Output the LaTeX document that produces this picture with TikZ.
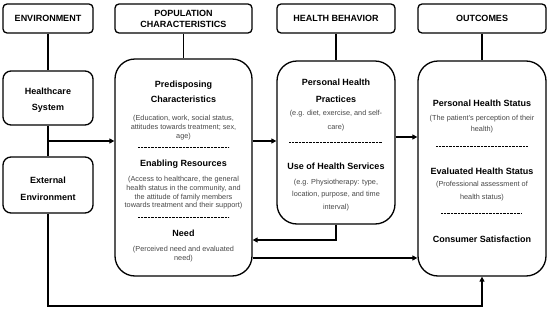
\documentclass[tikz,border=0pt]{standalone}
\usepackage{fontspec}
\setmainfont{Liberation Sans}
\usetikzlibrary{arrows.meta}
\definecolor{smallgray}{RGB}{70,70,70}
\begin{document}
\begin{tikzpicture}[x=1pt,y=-1pt,
  hdr/.style={draw,line width=1.3pt,rounded corners=4pt,align=center,inner sep=0pt,
    font=\fontsize{9}{11}\selectfont\bfseries},
  sidebox/.style={draw,line width=1.3pt,rounded corners=8pt,inner sep=0pt,minimum width=90pt},
  bigbox/.style={draw,line width=1.3pt,rounded corners=20pt,inner sep=0pt},
  ttl/.style={align=center,inner sep=0pt,font=\fontsize{9}{#1}\selectfont\bfseries},
  ttl/.default=15,
  sml/.style={align=center,inner sep=0pt,text=smallgray,font=\fontsize{7.3}{#1}\selectfont},
  sml/.default=9,
  dots/.style={line width=0.9pt,dash pattern=on 0.7pt off 0.7pt},
  conn/.style={line width=1.3pt},
  arr/.style={line width=1.3pt,-{Triangle[length=5pt,width=5pt]}}
]
\useasboundingbox (0,0) rectangle (550,311);

% headers
\node[hdr,minimum width=90pt,minimum height=29pt] (envh) at (48,18.5) {ENVIRONMENT};
\node[hdr,minimum width=137pt,minimum height=29pt] (poph) at (183.5,18.5) {POPULATION\\CHARACTERISTICS};
\node[hdr,minimum width=118pt,minimum height=29pt] (hbh) at (336,18.5) {HEALTH BEHAVIOR};
\node[hdr,minimum width=128pt,minimum height=29pt] (outh) at (482,18.5) {OUTCOMES};

% environment side boxes
\node[sidebox,minimum height=54pt] (hcs) at (48,98) {};
\node[ttl=16] (hcst) at (48,100.5) {Healthcare\\System};
\node[sidebox,minimum height=56pt] (ext) at (48,185) {};
\node[ttl=17] (extt) at (48,188.5) {External\\Environment};

% big boxes
\node[bigbox,minimum width=137pt,minimum height=217pt] (popb) at (183.5,167.5) {};
\node[bigbox,minimum width=118pt,minimum height=163pt] (hb) at (336,142.5) {};
\node[bigbox,minimum width=128pt,minimum height=215pt] (outb) at (482,168.5) {};

% population texts
\node[ttl] (pc) at (183.5,91.5) {Predisposing\\Characteristics};
\node[sml] (pcd) at (183.5,128) {(Education, work, social status,\\attitudes towards treatment; sex,\\age)};
\draw[dots] (138,147) -- (229,147);
\node[ttl] (er) at (183.5,164) {Enabling Resources};
\node[sml=8.7] (erd) at (183.5,193) {(Access to healthcare, the general\\health status in the community, and\\the attitude of family members\\towards treatment and their support)};
\draw[dots] (138,217) -- (229,217);
\node[ttl] (nd) at (183.5,233) {Need};
\node[sml] (ndd) at (183.5,254.5) {(Perceived need and evaluated\\need)};

% health behavior texts
\node[ttl=17] (php) at (336,91) {Personal Health\\Practices};
\node[sml=14] (phpd) at (336,120.5) {(e.g. diet, exercise, and self-\\care)};
\draw[dots] (289,142) -- (382,142);
\node[ttl] (uhs) at (336,166.5) {Use of Health Services};
\node[sml=12.5] (uhsd) at (336,195) {(e.g. Physiotherapy: type,\\location, purpose, and time\\interval)};

% outcomes texts
\node[ttl] (phs) at (482,103.5) {Personal Health Status};
\node[sml=11.5] (phsd) at (482,124) {(The patient's perception of their\\health)};
\draw[dots] (436,146) -- (528,146);
\node[ttl] (ehs) at (482,171.5) {Evaluated Health Status};
\node[sml=13] (ehsd) at (482,191) {(Professional assessment of\\health status)};
\draw[dots] (441,213) -- (522,213);
\node[ttl] (cs) at (482,239.5) {Consumer Satisfaction};

% connectors
\draw[conn] (envh) -- (hcs);
\draw[conn] (hcs) -- (ext);
\draw[conn] (poph) -- (popb);
\draw[conn] (hbh) -- (hb);
\draw[conn] (outh) -- (outb);
\coordinate (j1) at (48,141);
\draw[arr] (j1) -- (j1 -| popb.west);
\draw[arr] (j1 -| popb.east) -- (j1 -| hb.west);
\coordinate (j2) at (0,137);
\draw[arr] (j2 -| hb.east) -- (j2 -| outb.west);
\coordinate (j3) at (0,240);
\draw[arr] (hb.south) |- (j3 -| popb.east);
\coordinate (j4) at (0,258);
\draw[arr] (j4 -| popb.east) -- (j4 -| outb.west);
\coordinate (j5) at (48,306);
\draw[arr] (ext.south) -- (j5) -| (outb.south);
\end{tikzpicture}
\end{document}
